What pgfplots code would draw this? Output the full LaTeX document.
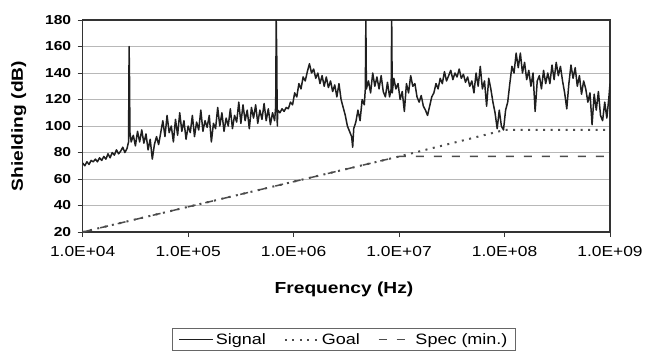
\documentclass[border=0pt]{standalone}
\usepackage{pgfplots}
\pgfplotsset{compat=1.18}
\usepackage{fontspec}
\setmainfont{Liberation Sans}[FakeStretch=1.2]

\definecolor{sig}{gray}{0.12}
\definecolor{lim}{gray}{0.30}

\begin{document}
\begin{tikzpicture}
\begin{axis}[
  name=ax, at={(0,0)}, anchor=south west,
  scale only axis, width=527.3pt, height=212pt,
  xmin=4, xmax=9, ymin=20, ymax=180,
  xtick={4,5,6,7,8,9},
  xticklabels={1.0E+04,1.0E+05,1.0E+06,1.0E+07,1.0E+08,1.0E+09},
  ytick={20,40,...,180},
  xtick pos=left, ytick pos=left,
  tick align=outside, major tick length=5pt,
  tick style={black!80, line width=0.8pt},
  ymajorgrids, grid style={black!28, line width=0.8pt},
  axis line style={black!80, line width=1.2pt},
  /pgf/number format/assume math mode=true,
  xticklabel style={font=\fontsize{14.5}{16}\selectfont, yshift=-6pt},
  yticklabel style={font=\bfseries\fontsize{13}{15}\selectfont, xshift=-3pt},
  xlabel={Frequency (Hz)},
  ylabel={Shielding (dB)},
  every axis x label/.style={at={(axis description cs:0.4955,-0.269)}, anchor=center,
    font=\bfseries\fontsize{16}{18}\selectfont},
  every axis y label/.style={at={(axis description cs:-0.1214,0.5)}, anchor=center, rotate=90,
    font=\bfseries\fontsize{16}{18}\selectfont},
  legend columns=3,
  legend style={at={(0.4955,-0.4528)}, anchor=north, draw=black!60, line width=0.8pt,
    font=\fontsize{15}{17}\selectfont, inner xsep=6pt, inner ysep=3pt,
    /tikz/every even column/.append style={column sep=16pt}},
  legend image code/.code={\draw[#1] (0pt,0pt) -- (34pt,0pt);},
]
% measured shielding effectiveness (x = log10 of frequency in Hz)
\addplot[sig, line width=1.5pt, line join=round] table {
lf db
4.00 72
4.02 70
4.04 73
4.06 71
4.08 74
4.10 73
4.12 75
4.14 73
4.16 76
4.18 74
4.20 77
4.22 75
4.24 79
4.26 76
4.28 80
4.30 78
4.32 82
4.34 79
4.36 81
4.38 84
4.40 80
4.42 83
4.435 88
4.440 160
4.444 136
4.448 95
4.46 88
4.48 93
4.50 85
4.52 96
4.54 88
4.56 97
4.58 87
4.60 94
4.62 82
4.64 90
4.66 75
4.68 86
4.70 92
4.72 86
4.74 95
4.76 104
4.78 92
4.80 108
4.82 95
4.84 100
4.86 88
4.88 105
4.90 93
4.92 110
4.94 96
4.96 104
4.98 90
5.00 100
5.02 95
5.04 108
5.06 92
5.08 103
5.10 97
5.12 112
5.14 96
5.16 104
5.18 99
5.20 108
5.22 88
5.24 102
5.26 98
5.28 114
5.30 100
5.32 110
5.34 96
5.36 106
5.38 100
5.40 113
5.42 98
5.44 108
5.46 103
5.48 118
5.50 102
5.52 116
5.54 104
5.56 112
5.58 98
5.60 114
5.62 106
5.64 116
5.66 102
5.68 112
5.70 105
5.72 117
5.74 104
5.76 113
5.78 101
5.80 110
5.82 104
5.830 115
5.835 180
5.840 153
5.845 100
5.85 112
5.87 110
5.89 113
5.91 111
5.93 114
5.95 113
5.97 118
5.99 116
6.01 125
6.03 122
6.05 132
6.07 128
6.09 137
6.11 134
6.13 141
6.15 147
6.17 140
6.19 143
6.21 136
6.23 140
6.25 132
6.27 138
6.29 130
6.31 137
6.33 129
6.35 134
6.37 126
6.39 131
6.41 122
6.43 132
6.45 120
6.47 114
6.49 108
6.51 100
6.53 96
6.55 92
6.56 84
6.57 98
6.59 103
6.61 112
6.63 104
6.65 120
6.67 116
6.680 128
6.685 180
6.690 128
6.71 134
6.73 125
6.75 140
6.77 130
6.79 137
6.81 128
6.83 138
6.85 126
6.87 122
6.89 133
6.91 122
6.925 128
6.930 180
6.935 125
6.95 136
6.97 128
6.99 132
7.01 120
7.03 126
7.05 111
7.07 132
7.09 125
7.11 138
7.13 130
7.15 132
7.17 122
7.19 118
7.21 123
7.23 115
7.25 112
7.27 108
7.29 115
7.31 122
7.33 125
7.35 132
7.37 128
7.39 136
7.41 132
7.43 141
7.45 134
7.47 138
7.49 142
7.51 135
7.53 140
7.55 137
7.57 143
7.59 136
7.61 139
7.63 133
7.65 137
7.67 130
7.69 134
7.71 125
7.73 140
7.75 130
7.77 145
7.79 128
7.81 134
7.83 115
7.85 136
7.87 128
7.89 118
7.91 110
7.93 98
7.95 112
7.97 100
7.99 97
8.01 112
8.03 118
8.05 132
8.07 145
8.09 140
8.11 155
8.13 144
8.15 155
8.17 140
8.19 148
8.21 135
8.23 142
8.25 130
8.27 140
8.29 111
8.31 134
8.33 138
8.35 128
8.37 142
8.39 132
8.41 140
8.43 132
8.45 146
8.47 135
8.49 148
8.51 138
8.53 145
8.55 134
8.57 125
8.59 113
8.61 132
8.63 146
8.65 136
8.67 144
8.69 130
8.71 138
8.73 124
8.75 134
8.77 128
8.79 118
8.81 125
8.83 101
8.85 124
8.87 112
8.89 126
8.91 108
8.93 104
8.95 118
8.97 106
8.99 122
9.00 132
};
\addlegendentry{Signal}
% design goal
\addplot[lim, line width=2pt, dash pattern=on 2pt off 5.5pt] table {
lf db
4 20
7 77
8 97
9 97
};
\addlegendentry{Goal}
% minimum specification
\addplot[lim, line width=1.5pt, dash pattern=on 8pt off 10pt] table {
lf db
4 20
7 77
9 77
};
\addlegendentry{Spec (min.)}
\end{axis}
\pgfresetboundingbox
\useasboundingbox (-82.7pt,-128pt) rectangle (564.3pt,232pt);
\end{tikzpicture}
\end{document}
